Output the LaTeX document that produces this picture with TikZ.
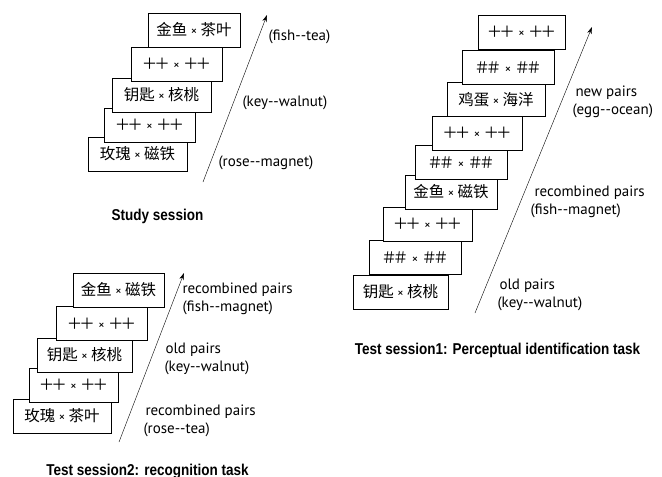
\documentclass[tikz,border=0pt]{standalone}
\usepackage{fontspec}
\setmainfont{PT Sans}
\newfontfamily\cjk{Noto Sans CJK SC}
\newfontfamily\titlefont[FakeStretch=0.86]{Liberation Sans}
\usetikzlibrary{arrows.meta}

\newcommand{\cross}{\hspace{3.5pt}{\fontsize{12.5}{12}\selectfont ×}\hspace{3.5pt}}
\newcommand{\wordpair}[2]{{\cjk #1}\cross{\cjk #2}}
\newcommand{\plus}{{\cjk ＋\kern-3pt＋}}
\newcommand{\hash}{{\cjk ＃\kern-4pt＃}}

\begin{document}
\begin{tikzpicture}[x=1pt, y=-1pt,
  -{Stealth[length=7pt, width=4.5pt]},
  card/.style = {draw, fill=white, line width=0.6pt, minimum height=34pt,
    inner sep=0pt, font=\fontsize{15.5}{16}\selectfont},
  note/.style = {anchor=west, align=left, font=\fontsize{15}{18}\selectfont},
  caption/.style = {font=\titlefont\bfseries\fontsize{15.7}{16}\selectfont}]
\useasboundingbox[fill=white] (0,0) rectangle (662,477);

% study session
\node[card, minimum width=99pt] (s5) at (137.5,154) {\wordpair{玫瑰}{磁铁}};
\node[card, minimum width=91pt] (s4) at (149.5,125) {\plus\cross\plus};
\node[card, minimum width=99pt] (s3) at (161.5,95) {\wordpair{钥匙}{核桃}};
\node[card, minimum width=91pt] (s2) at (176.5,64) {\plus\cross\plus};
\node[card, minimum width=92pt] (s1) at (194,30) {\wordpair{金鱼}{茶叶}};

\coordinate (sA) at (203,182);
\coordinate (sB) at (267,15);
\draw (sA) -- (sB);

\node[note] (sn1) at (265,37) {(fish-{}-tea)};
\node[note] (sn2) at (239,103) {(key-{}-walnut)};
\node[note] (sn3) at (215,163) {(rose-{}-magnet)};
\node[caption] (st) at (157.5,216) {Study session};

% test session 2
\node[card, minimum width=98pt] (r5) at (62,416) {\wordpair{玫瑰}{茶叶}};
\node[card, minimum width=89pt] (r4) at (73.5,385) {\plus\cross\plus};
\node[card, minimum width=95pt] (r3) at (84.5,355) {\wordpair{钥匙}{核桃}};
\node[card, minimum width=91pt] (r2) at (101.5,323.5) {\plus\cross\plus};
\node[card, minimum width=91pt] (r1) at (118.5,290) {\wordpair{金鱼}{磁铁}};

\coordinate (rA) at (119,442);
\coordinate (rB) at (184,273);
\draw (rA) -- (rB);

\node[note] (rn1) at (179,299) {recombined pairs\\(fish-{}-magnet)};
\node[note] (rn2) at (161,359) {\hspace{1pt}old pairs\\(key-{}-walnut)};
\node[note] (rn3) at (140,421) {\hspace{2pt}recombined pairs\\(rose-{}-tea)};
\node[caption] (rt) at (147.5,471) {Test session2: recognition task};

% test session 1
\node[card, minimum width=95pt] (p9) at (400.5,292) {\wordpair{钥匙}{核桃}};
\node[card, minimum width=92pt] (p8) at (415,257.5) {\hash\cross\hash};
\node[card, minimum width=89pt] (p7) at (427.5,224) {\plus\cross\plus};
\node[card, minimum width=92pt] (p6) at (451,192) {\wordpair{金鱼}{磁铁}};
\node[card, minimum width=92pt] (p5) at (461,162.5) {\hash\cross\hash};
\node[card, minimum width=90pt] (p4) at (477,133) {\plus\cross\plus};
\node[card, minimum width=98pt] (p3) at (496,99.5) {\wordpair{鸡蛋}{海洋}};
\node[card, minimum width=92pt] (p2) at (508,67.5) {\hash\cross\hash};
\node[card, minimum width=87pt] (p1) at (521.5,32) {\plus\cross\plus};

\coordinate (pA) at (475,313);
\coordinate (pB) at (592,27);
\draw (pA) -- (pB);

\node[note] (pn1) at (569,102) {\hspace{3pt}new pairs\\(egg-{}-ocean)};
\node[note] (pn2) at (527,202) {\hspace{4pt}recombined pairs\\(fish-{}-magnet)};
\node[note] (pn3) at (494,295) {\hspace{2pt}old pairs\\(key-{}-walnut)};
\node[caption] (pt) at (497.5,350) {Test session1: Perceptual identification task};

\end{tikzpicture}
\end{document}
